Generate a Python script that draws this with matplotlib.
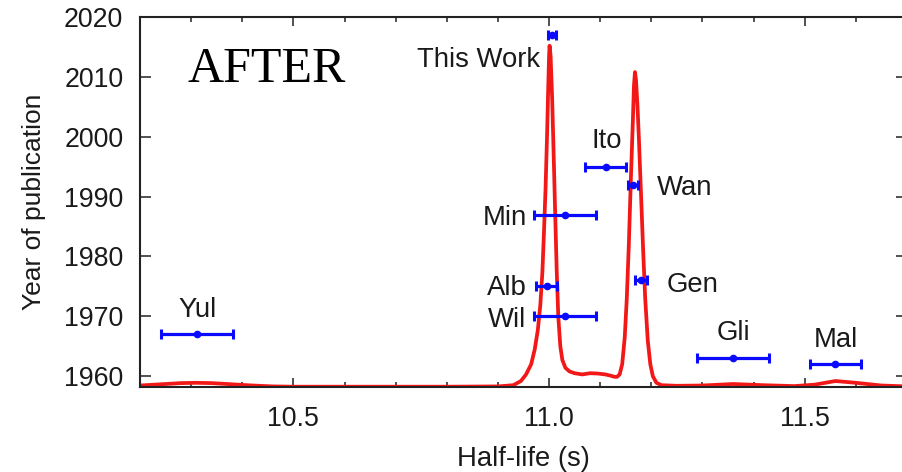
import matplotlib
matplotlib.use("Agg")
import matplotlib.pyplot as plt
from matplotlib.ticker import MultipleLocator, FixedLocator

# ---- data ----
refs = ["This Work", "Ito", "Wan", "Min", "Alb", "Wil", "Gen", "Gli", "Mal", "Yul"]
half_life = [11.006, 11.111, 11.164, 11.031, 10.995, 11.031, 11.180, 11.360, 11.560, 10.311]
half_life_err = [0.008, 0.040, 0.009, 0.061, 0.020, 0.061, 0.011, 0.070, 0.050, 0.070]
year = [2017, 1995, 1992, 1987, 1975, 1970, 1976, 1963, 1962, 1967]

# ideogram curve
curve_x = [10.20, 10.24, 10.28, 10.31, 10.34, 10.38, 10.42, 10.46, 10.50, 10.60, 10.70,
           10.80, 10.90, 10.93, 10.945, 10.955, 10.965, 10.972, 10.978, 10.983, 10.987,
           10.990, 10.993, 10.996, 10.998, 11.000, 11.001, 11.003, 11.006, 11.009,
           11.012, 11.015, 11.018, 11.022, 11.026, 11.032, 11.040, 11.050, 11.065,
           11.080, 11.095, 11.110, 11.120, 11.128, 11.133, 11.138, 11.143, 11.148,
           11.152, 11.156, 11.160, 11.164, 11.166, 11.168, 11.170, 11.173, 11.176,
           11.180, 11.184, 11.188, 11.193, 11.198, 11.203, 11.210, 11.220, 11.25,
           11.30, 11.36, 11.42, 11.48, 11.52, 11.56, 11.60, 11.65, 11.70]
curve_y = [1958.45, 1958.65, 1958.85, 1958.9, 1958.85, 1958.65, 1958.45, 1958.3, 1958.25, 1958.25, 1958.25,
           1958.25, 1958.3, 1958.5, 1959.2, 1960.3, 1962.0, 1964.5, 1967.7, 1972.0, 1977.5,
           1984.0, 1991.0, 2000.0, 2007.0, 2013.5, 2015.2, 2013.5, 2006.5, 1997.0,
           1987.0, 1977.5, 1970.0, 1965.0, 1962.7, 1961.4, 1960.8, 1960.5, 1960.3,
           1960.5, 1960.45, 1960.3, 1960.1, 1959.9, 1959.9, 1960.3, 1962.0, 1966.5,
           1973.0, 1982.0, 1993.0, 2003.0, 2008.5, 2010.8, 2009.5, 2005.0, 1999.0,
           1990.0, 1981.0, 1973.0, 1966.0, 1962.0, 1960.0, 1958.9, 1958.5, 1958.4,
           1958.45, 1958.7, 1958.5, 1958.35, 1958.6, 1959.2, 1958.9, 1958.45, 1958.3]

# ---- label placement (style) ----
label_pos = {
    "This Work": (10.982, 2011.6, "right"),
    "Ito": (11.112, 1998.1, "center"),
    "Wan": (11.210, 1990.2, "left"),
    "Min": (10.956, 1985.2, "right"),
    "Alb": (10.956, 1973.5, "right"),
    "Wil": (10.956, 1968.2, "right"),
    "Gen": (11.230, 1974.1, "left"),
    "Gli": (11.361, 1966.0, "center"),
    "Mal": (11.561, 1964.9, "center"),
    "Yul": (10.313, 1969.9, "center"),
}

plt.rcParams['font.family'] = ['Liberation Sans', 'DejaVu Sans']
txt_col = '#1a1a1a'

fig = plt.figure(figsize=(9.02, 4.72), dpi=100)
L, R, T, B = 140, 907, 17, 387
ax = fig.add_axes([L / 902, (472 - B) / 472, (R - L) / 902, (B - T) / 472])

ax.plot(curve_x, curve_y, color='#f21818', lw=2.7, solid_joinstyle='round',
        solid_capstyle='round', zorder=2)
ax.errorbar(half_life, year, xerr=half_life_err, fmt='o', color='#0a0aff', ms=4.5,
            elinewidth=2.3, capsize=3.8, capthick=2.2, zorder=3)

for r in refs:
    x, y, ha = label_pos[r]
    ax.text(x, y, r, ha=ha, va='baseline', fontsize=19.8, color=txt_col)

ax.text(0.062, 0.858, "AFTER", transform=ax.transAxes, family=['Liberation Serif', 'DejaVu Serif'],
        fontsize=36, color='black', ha='left', va='center')

ax.set_xlim(10.2, 11.7)
ax.set_ylim(1958.2, 2020)
ax.xaxis.set_major_locator(FixedLocator([10.5, 11.0, 11.5]))
ax.xaxis.set_minor_locator(MultipleLocator(0.1))
ax.yaxis.set_major_locator(MultipleLocator(10))
ax.set_xticklabels(["10.5", "11.0", "11.5"])

ax.tick_params(axis='both', which='both', direction='in', top=True, right=True,
               colors='#222222', labelcolor=txt_col, labelsize=19.3, width=1.1)
ax.tick_params(axis='x', which='major', length=6.5, pad=13.5)
ax.tick_params(axis='x', which='minor', length=3.5)
ax.tick_params(axis='y', which='major', length=8, pad=12)
for s in ax.spines.values():
    s.set_linewidth(1.5)
    s.set_color('#222222')

ax.set_xlabel("Half-life (s)", fontsize=19.8, color=txt_col, labelpad=10.5)
ax.set_ylabel("Year of publication", fontsize=19, color=txt_col, labelpad=13)

fig.savefig("out.png", dpi=100)
